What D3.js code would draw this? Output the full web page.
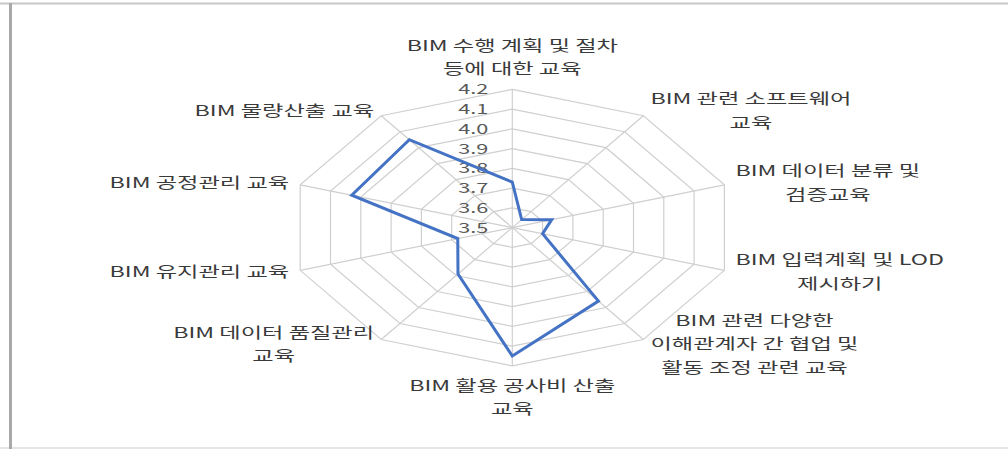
<!DOCTYPE html>
<html>
<head>
<meta charset="utf-8">
<script src="https://cdn.jsdelivr.net/npm/d3@7"></script>
<style>
  html, body { margin: 0; padding: 0; background: #ffffff; }
  svg { display: block; }
</style>
</head>
<body>
<svg id="chart" width="1008" height="449"></svg>
<script>
// ---- data ----
const categories = [
  ["BIM 수행 계획 및 절차", "등에 대한 교육"],
  ["BIM 관련 소프트웨어", "교육"],
  ["BIM 데이터 분류 및", "검증교육"],
  ["BIM 입력계획 및 LOD", "제시하기"],
  ["BIM 관련 다양한", "이해관계자 간 협업 및", "활동 조정 관련 교육"],
  ["BIM 활용 공사비 산출", "교육"],
  ["BIM 데이터 품질관리", "교육"],
  ["BIM 유지관리 교육"],
  ["BIM 공정관리 교육"],
  ["BIM 물량산출 교육"]
];
const values = [3.73, 3.55, 3.63, 3.60, 3.96, 4.15, 3.79, 3.68, 4.03, 4.05];
const tickValues = [3.5, 3.6, 3.7, 3.8, 3.9, 4.0, 4.1, 4.2];
const tickLabels = ["3.5", "3.6", "3.7", "3.8", "3.9", "4.0", "4.1", "4.2"];

// ---- layout ----
const W = 1008, H = 449;
const cx = 512.3, cy = 227.6;
const RX = 223, RY = 138.3;
const SX = 1.55; // horizontal text stretch
const svg = d3.select("#chart");

// frame
svg.append("line").attr("x1", 0).attr("x2", W).attr("y1", 3.5).attr("y2", 3.5)
  .attr("stroke", "#c6c6c6").attr("stroke-width", 2);
svg.append("line").attr("x1", 0).attr("x2", W).attr("y1", 448).attr("y2", 448)
  .attr("stroke", "#dcdcdc").attr("stroke-width", 1.5);
svg.append("line").attr("x1", 10.5).attr("x2", 10.5).attr("y1", 3).attr("y2", H)
  .attr("stroke", "#a9a9a9").attr("stroke-width", 3);

const n = categories.length;
const angle = d3.scaleLinear().domain([0, n]).range([0, 2 * Math.PI]);
const rX = d3.scaleLinear().domain([3.5, 4.2]).range([0, RX]);
const rY = d3.scaleLinear().domain([3.5, 4.2]).range([0, RY]);
const px = (i, v) => cx + rX(v) * Math.sin(angle(i));
const py = (i, v) => cy - rY(v) * Math.cos(angle(i));

const idx = d3.range(n);
const maxV = tickValues[tickValues.length - 1];

// grid rings
const grid = svg.append("g");
grid.selectAll("polygon").data(tickValues.slice(1)).join("polygon")
  .attr("points", t => idx.map(i => `${px(i, t)},${py(i, t)}`).join(" "))
  .attr("fill", "none").attr("stroke", "#cfcfcf").attr("stroke-width", 1.2);
// spokes
grid.selectAll("line").data(idx).join("line")
  .attr("x1", cx).attr("y1", cy)
  .attr("x2", i => px(i, maxV)).attr("y2", i => py(i, maxV))
  .attr("stroke", "#cfcfcf").attr("stroke-width", 1.2);

// tick labels
svg.append("g").selectAll("text").data(tickValues).join("text")
  .attr("text-anchor", "end")
  .attr("transform", t => `translate(${cx - 24},${py(0, t) + 5}) scale(${SX},1)`)
  .attr("font-family", "'Noto Sans CJK KR', 'Noto Sans', sans-serif")
  .attr("font-size", 14)
  .attr("fill", "#595959")
  .text((t, i) => tickLabels[i]);

// data line
const line = d3.line().x(d => px(d.i, d.v)).y(d => py(d.i, d.v)).curve(d3.curveLinearClosed);
svg.append("path")
  .datum(values.map((v, i) => ({ i, v })))
  .attr("d", line)
  .attr("fill", "none")
  .attr("stroke", "#4472c4")
  .attr("stroke-width", 3)
  .attr("stroke-linejoin", "miter");

// category labels
const LH = 23.5;
const labels = svg.append("g");
categories.forEach((lines, i) => {
  const a = angle(i);
  const vx = px(i, maxV), vy = py(i, maxV);
  const g = labels.append("g");
  const texts = g.selectAll("text").data(lines).join("text")
    .attr("text-anchor", "middle")
    .attr("font-family", "'Noto Sans CJK KR', sans-serif")
    .attr("font-size", 15)
    .attr("fill", "#3a3a3a")
    .text(d => d);
  let maxW = 0;
  texts.each(function () { maxW = Math.max(maxW, this.getComputedTextLength() * SX); });
  const s = Math.sin(a), c = Math.cos(a);
  let centerX, firstY;
  const m = lines.length;
  if (Math.abs(s) < 0.01) {
    centerX = vx;
    if (c > 0) firstY = vy - 20 - (m - 1) * LH; // top
    else firstY = vy + 20; // bottom
  } else {
    const gap = Math.abs(s) > 0.9 ? 11 : 7;
    centerX = s > 0 ? vx + gap + maxW / 2 : vx - gap - maxW / 2;
    const blockC = vy - 6 * c;
    firstY = blockC - (m - 1) * LH / 2;
  }
  texts.attr("transform", (d, j) => `translate(${centerX},${firstY + j * LH + 5}) scale(${SX},1)`);
});
</script>
</body>
</html>
